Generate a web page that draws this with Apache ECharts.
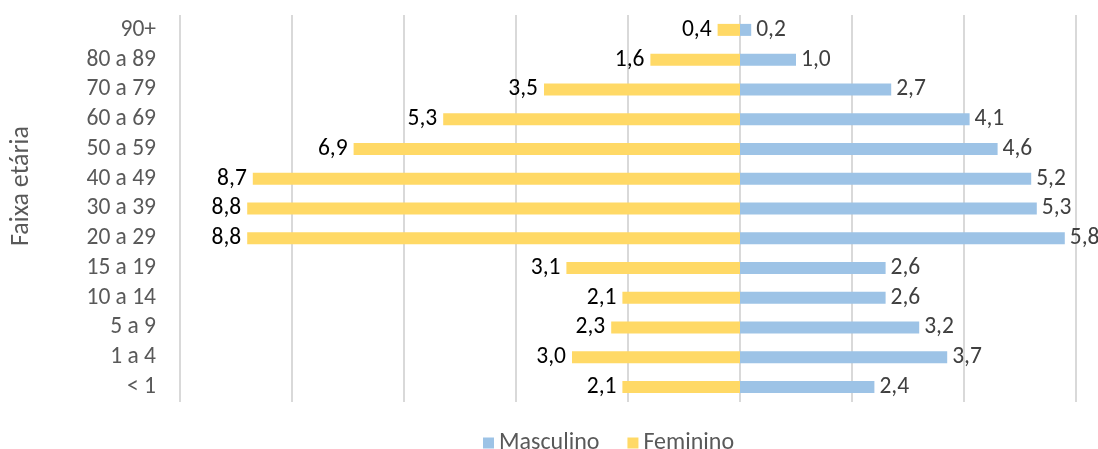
<!DOCTYPE html>
<html>
<head>
<meta charset="utf-8">
<script src="https://cdn.jsdelivr.net/npm/echarts@6/dist/echarts.min.js"></script>
<style>
html,body{margin:0;padding:0;background:#fff;}
#c{width:1098px;height:449px;}
</style>
</head>
<body>
<div id="c"></div>
<script>
const categories = ['< 1','1 a 4','5 a 9','10 a 14','15 a 19','20 a 29','30 a 39','40 a 49','50 a 59','60 a 69','70 a 79','80 a 89','90+'];
const masculino = [2.4, 3.7, 3.2, 2.6, 2.6, 5.8, 5.3, 5.2, 4.6, 4.1, 2.7, 1.0, 0.2];
const feminino = [2.1, 3.0, 2.3, 2.1, 3.1, 8.8, 8.8, 8.7, 6.9, 5.3, 3.5, 1.6, 0.4];
const xTicks = {min: -10, max: 6, interval: 2};
const yAxisTitle = 'Faixa etária';

const FONT = 'Carlito, Calibri, "Open Sans", sans-serif';
const FS = 23.5;
const fmt = v => Math.abs(v).toFixed(1).replace('.', ',');

const chart = echarts.init(document.getElementById('c'));
chart.setOption({
  animation: false,
  textStyle: {fontFamily: FONT},
  grid: {left: 180, right: 22, top: 15, bottom: 47, containLabel: false},
  graphic: [{
    type: 'text',
    x: 21,
    y: 186,
    rotation: Math.PI / 2,
    style: {
      text: yAxisTitle,
      font: '26px ' + FONT,
      fill: '#595959',
      align: 'center',
      verticalAlign: 'middle'
    }
  }],
  legend: {
    left: 478,
    top: 426,
    icon: 'rect',
    itemWidth: 11,
    itemHeight: 11,
    itemGap: 28,
    itemTextGap: 6,
    textStyle: {fontFamily: FONT, fontSize: 24, color: '#595959'},
    data: ['Masculino', 'Feminino']
  },
  xAxis: {
    type: 'value',
    min: xTicks.min,
    max: xTicks.max,
    interval: xTicks.interval,
    axisLabel: {show: false},
    axisLine: {show: false},
    axisTick: {show: false},
    splitLine: {show: true, lineStyle: {color: '#D9D9D9', width: 2}}
  },
  yAxis: {
    type: 'category',
    data: categories,
    axisLine: {show: false, onZero: false},
    axisTick: {show: false},
    axisLabel: {interval: 0, margin: 24, fontFamily: FONT, fontSize: FS, color: '#595959'}
  },
  series: [
    {
      name: 'Masculino',
      type: 'bar',
      data: masculino,
      barWidth: 12,
      barGap: '-100%',
      itemStyle: {color: '#9DC3E6'},
      label: {show: true, position: 'right', distance: 5, formatter: p => fmt(p.value),
        fontFamily: FONT, fontSize: FS, color: '#404040'}
    },
    {
      name: 'Feminino',
      type: 'bar',
      data: feminino.map(v => -v),
      barWidth: 12,
      barGap: '-100%',
      itemStyle: {color: '#FFD966'},
      label: {show: true, position: 'left', distance: 6, formatter: p => fmt(p.value),
        fontFamily: FONT, fontSize: FS, color: '#000000'}
    }
  ]
});
</script>
</body>
</html>
